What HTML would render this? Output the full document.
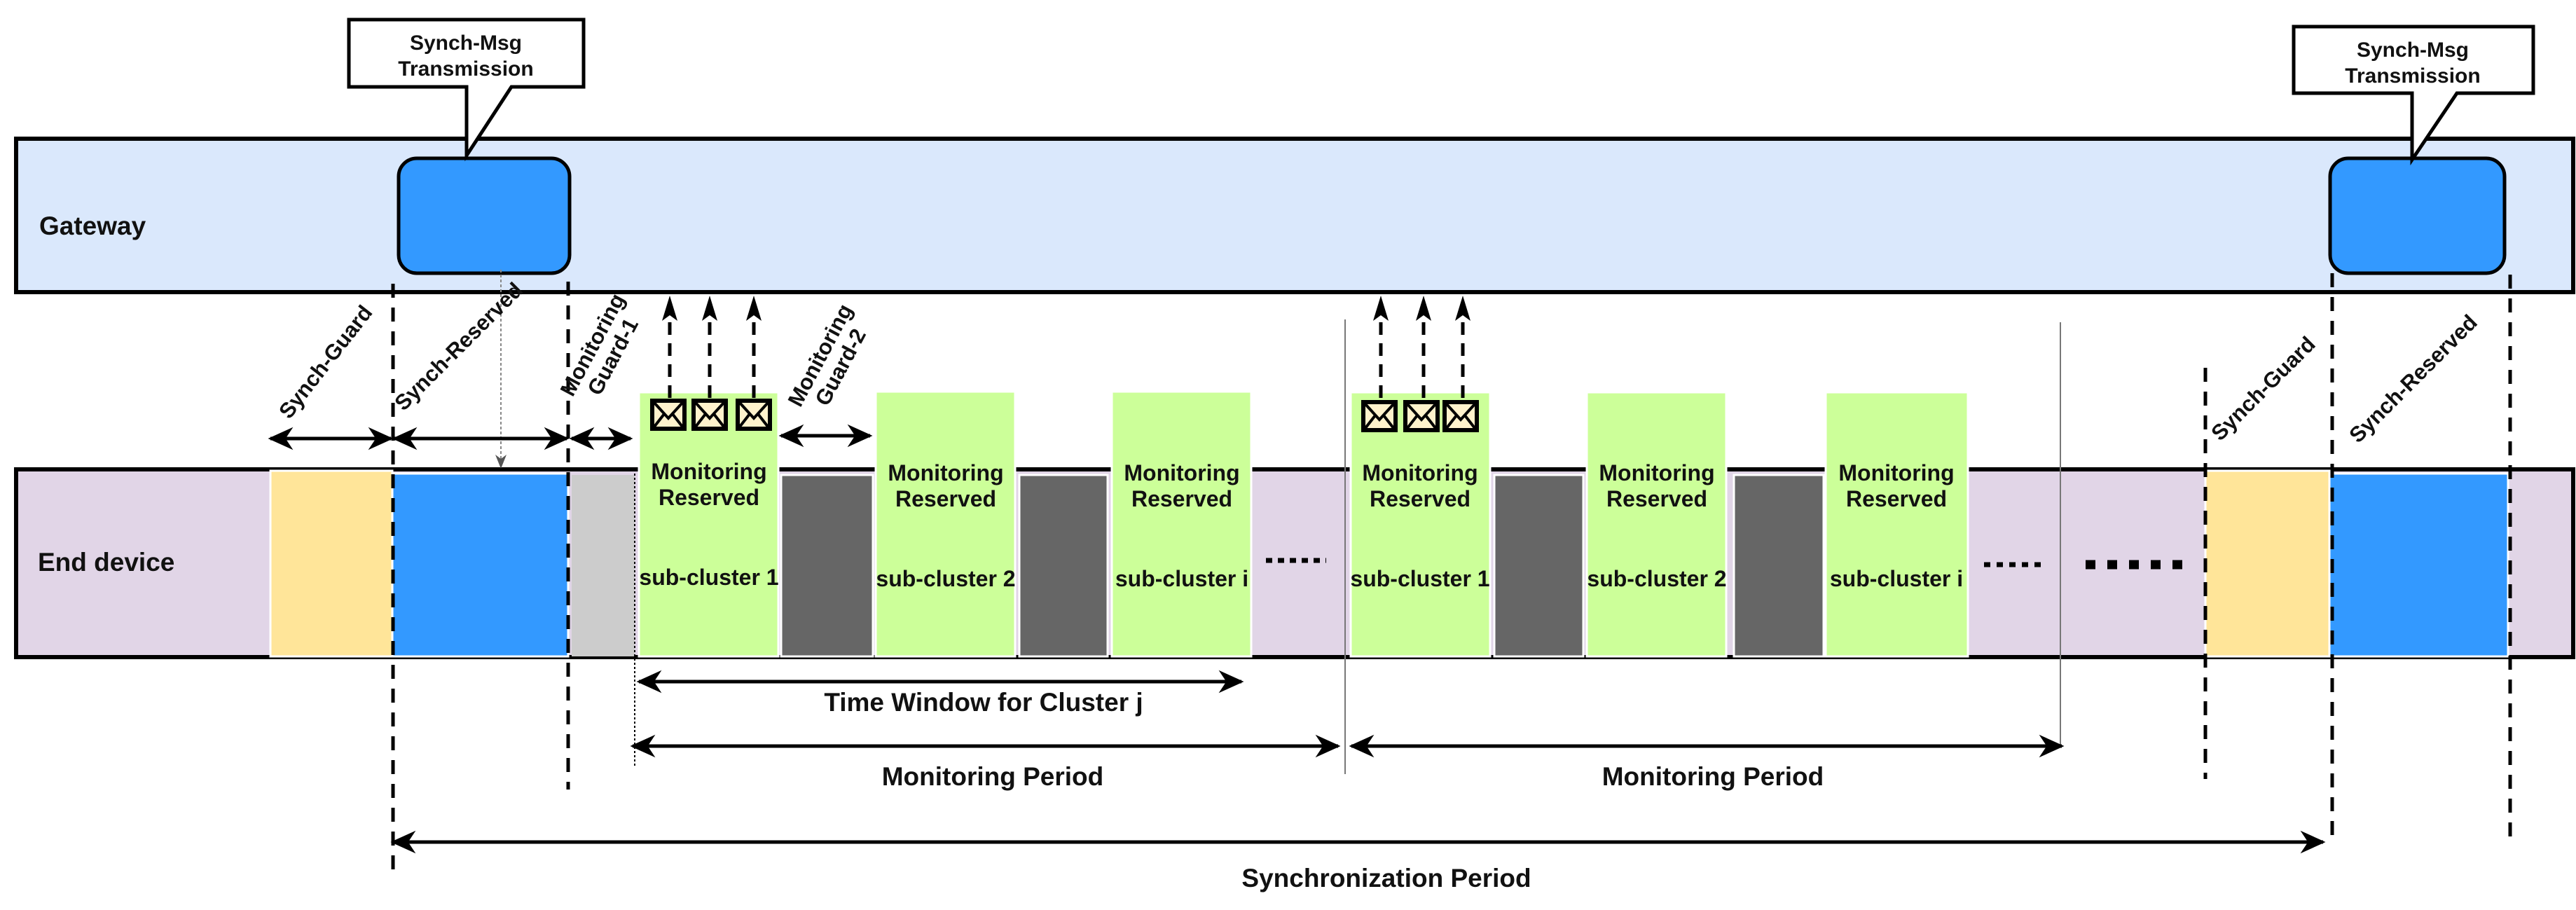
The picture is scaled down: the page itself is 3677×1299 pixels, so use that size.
<!DOCTYPE html>
<html><head><meta charset="utf-8"><style>body{margin:0;background:#fff}svg{display:block}text{font-family:"Liberation Sans",sans-serif;font-weight:bold;fill:#111}</style></head><body>
<svg width="3677" height="1299" viewBox="0 0 3677 1299" xmlns="http://www.w3.org/2000/svg">
<defs>
<marker id="b" viewBox="0 0 20 20" refX="18" refY="10" markerWidth="36" markerHeight="36" markerUnits="userSpaceOnUse" orient="auto-start-reverse"><path d="M0,1 L20,10 L0,19 L6,10 Z" fill="#000"/></marker>
<marker id="g" viewBox="0 0 20 20" refX="18" refY="10" markerWidth="20" markerHeight="20" markerUnits="userSpaceOnUse" orient="auto"><path d="M0,2 L20,10 L0,18 L6,10 Z" fill="#555"/></marker>
<g id="env"><rect x="0" y="0" width="46" height="40" fill="#fff2cc" stroke="#000" stroke-width="6"/><path d="M3,3 L23,25 L43,3 M3,37 L17,19 M43,37 L29,19" stroke="#000" stroke-width="4" fill="none"/></g>
</defs>
<rect x="23" y="198" width="3650" height="219" fill="#dae8fc" stroke="#000" stroke-width="6"/>
<text x="56" y="335" font-size="37">Gateway</text>
<rect x="569" y="226" width="244" height="164" rx="26" fill="#3399ff" stroke="#000" stroke-width="5"/>
<rect x="3326" y="226" width="249" height="164" rx="26" fill="#3399ff" stroke="#000" stroke-width="5"/>
<path d="M498,28 H833 V124 H730 L666,222 L666,124 H498 Z" fill="#fff" stroke="#000" stroke-width="5"/>
<text x="665" y="71" font-size="30" text-anchor="middle">Synch-Msg</text>
<text x="665" y="108" font-size="30" text-anchor="middle">Transmission</text>
<path d="M3274,38 H3616 V133 H3507 L3443,228 L3443,133 H3274 Z" fill="#fff" stroke="#000" stroke-width="5"/>
<text x="3444" y="81" font-size="30" text-anchor="middle">Synch-Msg</text>
<text x="3444" y="118" font-size="30" text-anchor="middle">Transmission</text>
<rect x="23" y="670" width="3650" height="268" fill="#e1d5e7" stroke="#000" stroke-width="6"/>
<text x="54" y="815" font-size="37">End device</text>
<g stroke="#fff" stroke-width="3">
<rect x="386" y="672" width="174" height="265" fill="#ffe599"/>
<rect x="560" y="676" width="251" height="261" fill="#3399ff"/>
<rect x="816" y="678" width="90" height="259" fill="#cccccc" stroke="none"/>
<rect x="1115" y="678" width="131" height="259" fill="#666"/>
<rect x="1455" y="678" width="126" height="259" fill="#666"/>
<rect x="2133" y="678" width="127" height="259" fill="#666"/>
<rect x="2475" y="678" width="128" height="259" fill="#666"/>
<rect x="3148" y="672" width="177" height="265" fill="#ffe599"/>
<rect x="3325" y="676" width="255" height="261" fill="#3399ff"/>
<rect x="912" y="560" width="199" height="377" fill="#ccff99"/>
<rect x="1250" y="559" width="199" height="378" fill="#ccff99"/>
<rect x="1587" y="559" width="199" height="378" fill="#ccff99"/>
<rect x="1928" y="560" width="199" height="377" fill="#ccff99"/>
<rect x="2265" y="560" width="199" height="377" fill="#ccff99"/>
<rect x="2606" y="560" width="203" height="377" fill="#ccff99"/>
</g>
<g font-size="32" text-anchor="middle">
<text x="1012" y="684">Monitoring</text><text x="1012" y="721">Reserved</text><text x="1012" y="835">sub-cluster 1</text>
<text x="1350" y="686">Monitoring</text><text x="1350" y="723">Reserved</text><text x="1350" y="837">sub-cluster 2</text>
<text x="1687" y="686">Monitoring</text><text x="1687" y="723">Reserved</text><text x="1687" y="837">sub-cluster i</text>
<text x="2027" y="686">Monitoring</text><text x="2027" y="723">Reserved</text><text x="2027" y="837">sub-cluster 1</text>
<text x="2365" y="686">Monitoring</text><text x="2365" y="723">Reserved</text><text x="2365" y="837">sub-cluster 2</text>
<text x="2707" y="686">Monitoring</text><text x="2707" y="723">Reserved</text><text x="2707" y="837">sub-cluster i</text>
</g>
<path d="M1807,800 H1893" stroke="#000" stroke-width="7" stroke-dasharray="9,8"/>
<path d="M2832,806 H2922" stroke="#000" stroke-width="7" stroke-dasharray="9,9"/>
<path d="M2977,806 H3122" stroke="#000" stroke-width="13" stroke-dasharray="14,17"/>
<g stroke="#000" stroke-width="5" stroke-dasharray="20,14" fill="none">
<path d="M561,405 V1242"/><path d="M811,402 V1127"/>
<path d="M3148,525 V1112"/><path d="M3329,390 V1200"/><path d="M3583,392 V1208"/>
</g>
<path d="M906,670 V1095" stroke="#000" stroke-width="2" stroke-dasharray="3,3"/>
<path d="M1920,456 V1105" stroke="#777" stroke-width="2"/>
<path d="M2941,460 V1065" stroke="#777" stroke-width="2"/>
<path d="M715,385 V667" stroke="#888" stroke-width="2" stroke-dasharray="4,3" marker-end="url(#g)"/>
<g stroke="#000" stroke-width="5" fill="none" marker-start="url(#b)" marker-end="url(#b)">
<path d="M386,626 H558"/><path d="M563,626 H809"/><path d="M816,626 H900"/><path d="M1115,622 H1242"/>
<path d="M912,973 H1772"/><path d="M903,1065 H1910"/><path d="M1929,1065 H2943"/><path d="M561,1202 H3316"/>
</g>
<g font-size="37" text-anchor="middle">
<text x="1404" y="1015">Time Window for Cluster j</text>
<text x="1417" y="1121">Monitoring Period</text>
<text x="2445" y="1121">Monitoring Period</text>
<text x="1979" y="1266">Synchronization  Period</text>
</g>
<g font-size="31" text-anchor="middle">
<text transform="translate(473,523) rotate(-52)">Synch-Guard</text>
<text transform="translate(662,502) rotate(-45)">Synch-Reserved</text>
<text transform="translate(855,497) rotate(-62)">Monitoring</text>
<text transform="translate(884,514) rotate(-62)">Guard-1</text>
<text transform="translate(1180,512) rotate(-62)">Monitoring</text>
<text transform="translate(1209,529) rotate(-62)">Guard-2</text>
<text transform="translate(3238,562) rotate(-45)">Synch-Guard</text>
<text transform="translate(3452,548) rotate(-45)">Synch-Reserved</text>
</g>
<g stroke="#000" stroke-width="5" stroke-dasharray="18,12" fill="none">
<path d="M956,568 V440"/><path d="M1013,568 V440"/><path d="M1076,568 V440"/>
<path d="M1971,568 V440"/><path d="M2032,568 V440"/><path d="M2088,568 V440"/>
</g>
<g fill="#000">
<path d="M956,422 L945,458 L956,450 L967,458Z"/><path d="M1013,422 L1002,458 L1013,450 L1024,458Z"/><path d="M1076,422 L1065,458 L1076,450 L1087,458Z"/>
<path d="M1971,422 L1960,458 L1971,450 L1982,458Z"/><path d="M2032,422 L2021,458 L2032,450 L2043,458Z"/><path d="M2088,422 L2077,458 L2088,450 L2099,458Z"/>
</g>
<use href="#env" x="931" y="572"/><use href="#env" x="990" y="572"/><use href="#env" x="1053" y="572"/>
<use href="#env" x="1946" y="574"/><use href="#env" x="2006" y="574"/><use href="#env" x="2062" y="574"/>
</svg>
</body></html>
